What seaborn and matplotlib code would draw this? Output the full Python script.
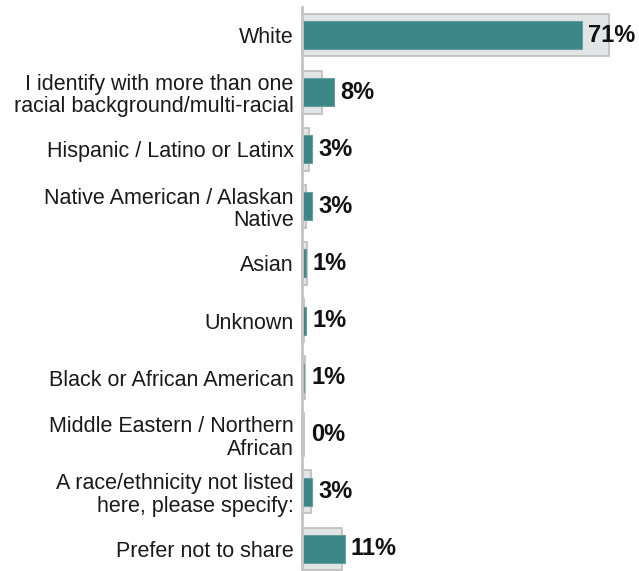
import matplotlib
matplotlib.use("Agg")
import matplotlib.pyplot as plt
import seaborn as sns
import pandas as pd

categories = [
    "White",
    "I identify with more than one\nracial background/multi-racial",
    "Hispanic / Latino or Latinx",
    "Native American / Alaskan\nNative",
    "Asian",
    "Unknown",
    "Black or African American",
    "Middle Eastern / Northern\nAfrican",
    "A race/ethnicity not listed\nhere, please specify:",
    "Prefer not to share",
]
# share of respondents (%)
respondents = [71, 8, 2.6, 2.6, 1, 1, 0.6, 0, 2.6, 10.8]
# comparison group (%)
comparison = [78, 5, 1.8, 1, 1.2, 0.6, 0.8, 0.4, 2.2, 10.2]

TEAL = "#3b8787"
GRAY_FILL = "#e2e5e5"
GRAY_EDGE = "#bcbcbc"

sns.set_theme(style="white")
plt.rcParams["font.family"] = ["Liberation Sans", "DejaVu Sans"]

df = pd.DataFrame({"category": categories,
                   "respondents": respondents,
                   "comparison": comparison})

W, H, DPI = 639, 571, 100
fig = plt.figure(figsize=(W / DPI, H / DPI), dpi=DPI)
ax = fig.add_axes([302 / W, 0, (637 - 302) / W, 564.5 / H])

sns.barplot(data=df, y="category", x="comparison", orient="h", ax=ax,
            color=GRAY_FILL, edgecolor=GRAY_EDGE, linewidth=1.2,
            width=0.75, saturation=1)
sns.barplot(data=df, y="category", x="respondents", orient="h", ax=ax,
            color=TEAL, edgecolor="#6a9e9e", linewidth=0.8,
            width=0.49, saturation=1)

ax.set_xlim(0, 85)
ax.set_ylim(9.386, -0.5)
ax.set_xlabel("")
ax.set_ylabel("")
ax.set_xticks([])
ax.tick_params(axis="y", length=0, pad=6, labelsize=15.5, labelcolor="#1a1a1a")
for lbl in ax.get_yticklabels():
    lbl.set_horizontalalignment("right")
    lbl.set_linespacing(1.1)

for side in ("top", "right", "bottom"):
    ax.spines[side].set_visible(False)
ax.spines["left"].set_color("#c4c4c4")
ax.spines["left"].set_linewidth(2)

for i, v in enumerate(respondents):
    ax.annotate(f"{round(v)}%", xy=(max(v, 0.8), i), xytext=(4.5, 0),
                textcoords="offset points", va="center", ha="left",
                fontsize=17, fontweight="bold", color="#111111")

fig.savefig("out.png", dpi=DPI)
